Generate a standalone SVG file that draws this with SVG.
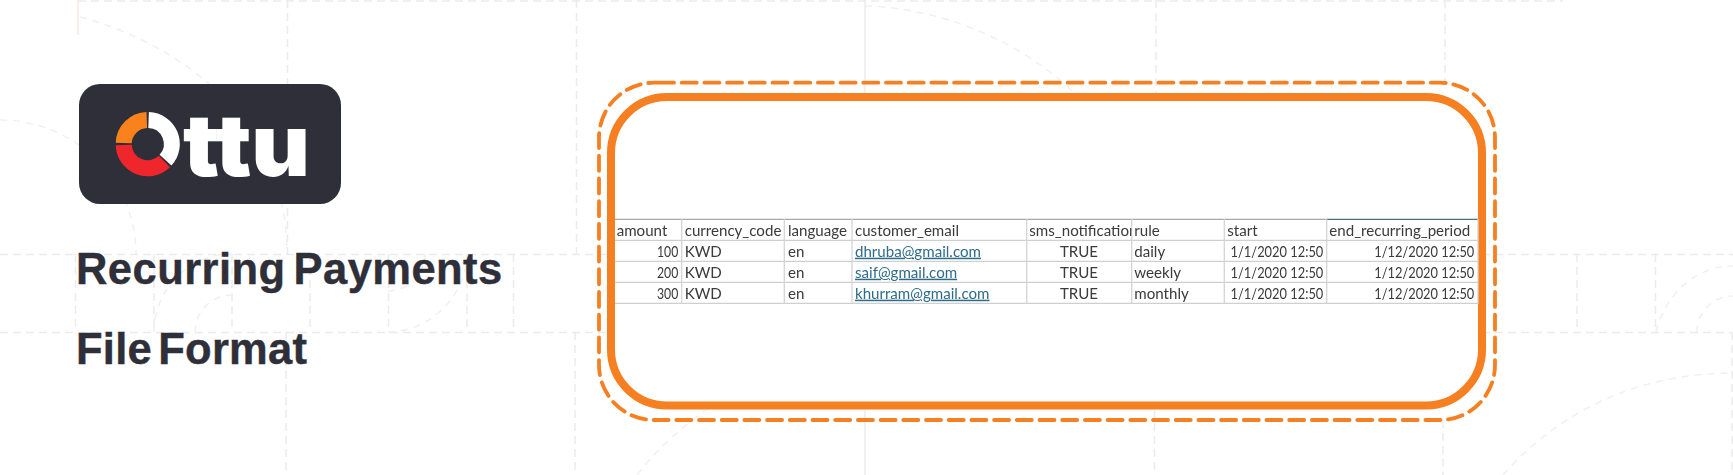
<svg xmlns="http://www.w3.org/2000/svg" width="1733" height="475" viewBox="0 0 1733 475">
<style>
.g{fill:none;stroke:#ebebeb;stroke-width:1.5;stroke-dasharray:8 5}
.a{fill:none;stroke:#f0f0f0;stroke-width:1.5;stroke-dasharray:7 6}
.s{fill:none;stroke:#ececec;stroke-width:1.5}
.ti{font-family:"Liberation Sans",Arial,sans-serif;font-weight:700;font-size:43.5px;fill:#2f2f39;stroke:#2f2f39;stroke-width:.4px;word-spacing:-4.5px;letter-spacing:.45px}
.t2{word-spacing:-6px;letter-spacing:.25px}
.c{font-family:Lato,"Liberation Sans",sans-serif;font-size:15.1px;fill:#3a3a3a}
.m{text-anchor:middle}
.l{fill:#2f6c8a;text-decoration:underline}
.h{stroke:#cfcfcf;stroke-width:1.3}
.v{stroke:#d4d4d4;stroke-width:1.3}
.seg{fill:none;stroke-width:16}
</style>
<defs>
<filter id="soft" x="-2%" y="-5%" width="104%" height="110%"><feGaussianBlur stdDeviation="0.35"/></filter>
<clipPath id="smsclip"><rect x="1026" y="220" width="105.5" height="20"/></clipPath>
</defs>
<rect width="1733" height="475" fill="#fff"/>
<g id="background-grid">
<path class="g" d="M0 254.5H1733M0 332.5H1733M78 1H1563"/>
<path class="g" d="M287.5 0V254M576.5 0V254M1156 0V95M1445 0V84"/>
<path class="g" d="M75.5 254V332M154 254V332M232 254V332M310 254V332M388.5 254V332M467 254V332M513.5 254V332M1577 254V332M1655.5 254V332"/>
<path class="g" d="M286 332V475M575 332V475M1154.5 410V475M1443 420V475M1732 332V475"/>
<path class="s" d="M865 0V95M865 410V475"/>
<path d="M78 0V35" fill="none" stroke="#f6e8da" stroke-width="1.5"/>
<path class="a" d="M80 17C150 35 287 100 287 254"/>
<path class="a" d="M0 120C75 120 136 180 136 254"/>
<path class="a" d="M154 332A78 78 0 0 1 232 254M195 332A37 37 0 0 1 232 295"/>
<path class="a" d="M388 332C430 332 467 295 467 254M388 291A37 37 0 0 0 425 254"/>
<path class="a" d="M1656 332C1665 295 1695 266 1733 266M1697 332A36 36 0 0 1 1733 296"/>
<path class="a" d="M1503 475C1560 410 1640 373 1733 373"/>
<path class="a" d="M865 6C950 8 1040 50 1090 110"/>
<path class="a" d="M637 475C660 445 690 420 720 400"/>
</g>
<g id="logo">
<rect x="79" y="84" width="262" height="120" rx="21" fill="#2e2f38"/>
<path class="seg" stroke="#f9821c" d="M123.7 143A24 24 0 0 1 146.8 120"/>
<path class="seg" stroke="#ffffff" d="M148.6 120A24 24 0 0 1 165.5 160.2"/>
<path class="seg" stroke="#f0262d" d="M123.7 145A24 24 0 0 0 164.4 161.5"/>
<text x="183" y="175.5" font-family="Inter,'Liberation Sans',sans-serif" font-weight="900" font-size="86" fill="#fff" textLength="127" lengthAdjust="spacingAndGlyphs">ttu</text>
</g>
<g id="title">
<text class="ti" x="76" y="284">Recurring Payments</text>
<text class="ti t2" x="76" y="364">File Format</text>
</g>
<g id="frame">
<path d="M659 82.7H1440A55 55 0 0 1 1495 137.7V365A55 55 0 0 1 1440 420H654A55 55 0 0 1 599 365V137.7A55 55 0 0 1 654 82.7Z" fill="none" stroke="#f67f22" stroke-width="3.8" stroke-linecap="round" stroke-dasharray="15 7.7"/>
<rect x="611" y="97" width="871" height="308.5" rx="56" fill="#fff" stroke="#f67f22" stroke-width="8"/>
</g>
<g id="table" filter="url(#soft)">
<path d="M615 219.3H1326" stroke="#a8a8a8" stroke-width="1.3"/>
<path d="M1326 219.3H1478" stroke="#50706a" stroke-width="1.2"/>
<path class="h" d="M615 240.3H1478M615 261.3H1478M615 282.3H1478M615 303.3H1478"/>
<path class="v" d="M681.7 219V304M784.3 219V304M852 219V304M1026.7 219V304M1131.7 219V304M1224.3 219V304M1326.7 219V304M1478 219V304"/>
<text class="c" x="616.7" y="235.7">amount</text>
<text class="c" x="684.7" y="235.7">currency_code</text>
<text class="c" x="788" y="235.7">language</text>
<text class="c" x="855" y="235.7">customer_email</text>
<text class="c" x="1029.3" y="235.7" clip-path="url(#smsclip)">sms_notification</text>
<text class="c" x="1134.3" y="235.7">rule</text>
<text class="c" x="1227.3" y="235.7">start</text>
<text class="c" x="1329.3" y="235.7">end_recurring_period</text>
<text class="c" x="657" y="256.7" textLength="21.3" lengthAdjust="spacingAndGlyphs">100</text>
<text class="c" x="684.7" y="256.7">KWD</text>
<text class="c" x="788" y="256.7">en</text>
<text class="c l" x="855" y="256.7">dhruba@gmail.com</text>
<text class="c m" x="1079" y="256.7">TRUE</text>
<text class="c" x="1134.3" y="256.7">daily</text>
<text class="c" x="1230.6" y="256.7" textLength="92.7" lengthAdjust="spacingAndGlyphs">1/1/2020 12:50</text>
<text class="c" x="1374.3" y="256.7" textLength="100" lengthAdjust="spacingAndGlyphs">1/12/2020 12:50</text>
<text class="c" x="657" y="277.7" textLength="21.3" lengthAdjust="spacingAndGlyphs">200</text>
<text class="c" x="684.7" y="277.7">KWD</text>
<text class="c" x="788" y="277.7">en</text>
<text class="c l" x="855" y="277.7">saif@gmail.com</text>
<text class="c m" x="1079" y="277.7">TRUE</text>
<text class="c" x="1134.3" y="277.7">weekly</text>
<text class="c" x="1230.6" y="277.7" textLength="92.7" lengthAdjust="spacingAndGlyphs">1/1/2020 12:50</text>
<text class="c" x="1374.3" y="277.7" textLength="100" lengthAdjust="spacingAndGlyphs">1/12/2020 12:50</text>
<text class="c" x="657" y="298.7" textLength="21.3" lengthAdjust="spacingAndGlyphs">300</text>
<text class="c" x="684.7" y="298.7">KWD</text>
<text class="c" x="788" y="298.7">en</text>
<text class="c l" x="855" y="298.7">khurram@gmail.com</text>
<text class="c m" x="1079" y="298.7">TRUE</text>
<text class="c" x="1134.3" y="298.7">monthly</text>
<text class="c" x="1230.6" y="298.7" textLength="92.7" lengthAdjust="spacingAndGlyphs">1/1/2020 12:50</text>
<text class="c" x="1374.3" y="298.7" textLength="100" lengthAdjust="spacingAndGlyphs">1/12/2020 12:50</text>
</g>
</svg>
